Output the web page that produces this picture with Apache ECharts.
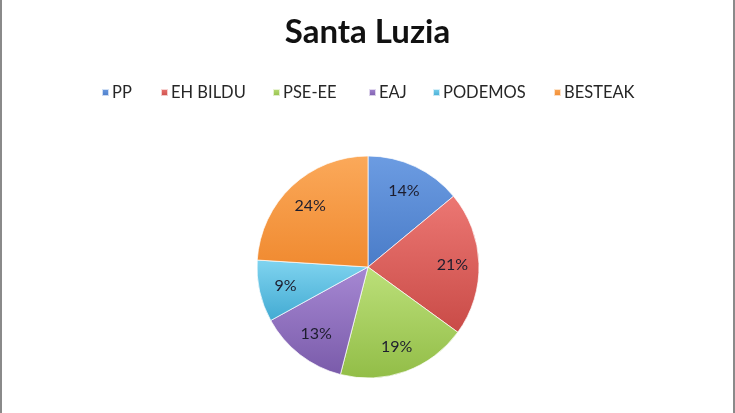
<!DOCTYPE html>
<html>
<head>
<meta charset="utf-8">
<script src="https://cdn.jsdelivr.net/npm/echarts@6/dist/echarts.min.js"></script>
<style>
html,body{margin:0;padding:0;background:#fff;}
#c{width:735px;height:413px;}
</style>
</head>
<body>
<div id="c"></div>
<script>
const title = 'Santa Luzia';
const categories = ['PP', 'EH BILDU', 'PSE-EE', 'EAJ', 'PODEMOS', 'BESTEAK'];
const values = [14, 21, 19, 13, 9, 24];

const colorTop = ['#6C9CE2', '#EC7773', '#BCE07A', '#A688D3', '#80D4F0', '#FBA95A'];
const colorBottom = ['#4A7CC8', '#C94B47', '#92BD47', '#7A5BAA', '#42AAD2', '#F08A30'];
const legendLeft = [101, 160, 272, 368, 432, 553];

const chart = echarts.init(document.getElementById('c'), null, {renderer: 'canvas'});
const FONT = 'Lato, "Open Sans", sans-serif';

function grad(i) {
  return new echarts.graphic.LinearGradient(0, 0, 0, 1, [
    {offset: 0, color: colorTop[i]},
    {offset: 1, color: colorBottom[i]}
  ]);
}

const pieData = categories.map((n, i) => ({name: n, value: values[i], itemStyle: {color: grad(i)}}));
const labelData = categories.map((n, i) => ({name: n, value: values[i]}));

const legends = categories.map((n, i) => ({
  data: [n],
  left: legendLeft[i],
  top: 84,
  padding: 0,
  itemWidth: 7,
  itemHeight: 7,
  icon: 'rect',
  selectedMode: false,
  textStyle: {fontFamily: FONT, fontSize: 16.5, color: '#262626', padding: [0, 0, 0, -2]}
}));

chart.setOption({
  animation: false,
  backgroundColor: '#fff',
  title: {
    text: title,
    left: 'center',
    top: 16,
    padding: 0,
    textStyle: {fontFamily: FONT, fontSize: 33, fontWeight: 'bold', color: '#111'}
  },
  legend: legends,
  graphic: [
    {type: 'rect', shape: {x: 0, y: 0, width: 2, height: 413}, style: {fill: '#8a8a8a'}, silent: true},
    {type: 'rect', shape: {x: 733, y: 0, width: 2, height: 413}, style: {fill: '#8a8a8a'}, silent: true}
  ],
  series: [
    {
      type: 'pie',
      center: [368, 267],
      radius: [0, 111],
      startAngle: 90,
      clockwise: true,
      data: pieData,
      label: {show: false},
      labelLine: {show: false},
      itemStyle: {borderColor: 'rgba(255,255,255,0.7)', borderWidth: 1},
      emphasis: {disabled: true}
    },
    {
      type: 'pie',
      center: [368, 267],
      radius: [52, 111],
      startAngle: 90,
      clockwise: true,
      silent: true,
      legendHoverLink: false,
      data: labelData,
      itemStyle: {color: 'rgba(0,0,0,0)'},
      label: {
        show: true,
        position: 'inside',
        formatter: '{c}%',
        fontFamily: FONT,
        fontSize: 16,
        color: '#1d1d2e'
      },
      labelLine: {show: false},
      emphasis: {disabled: true}
    }
  ]
});
</script>
</body>
</html>
